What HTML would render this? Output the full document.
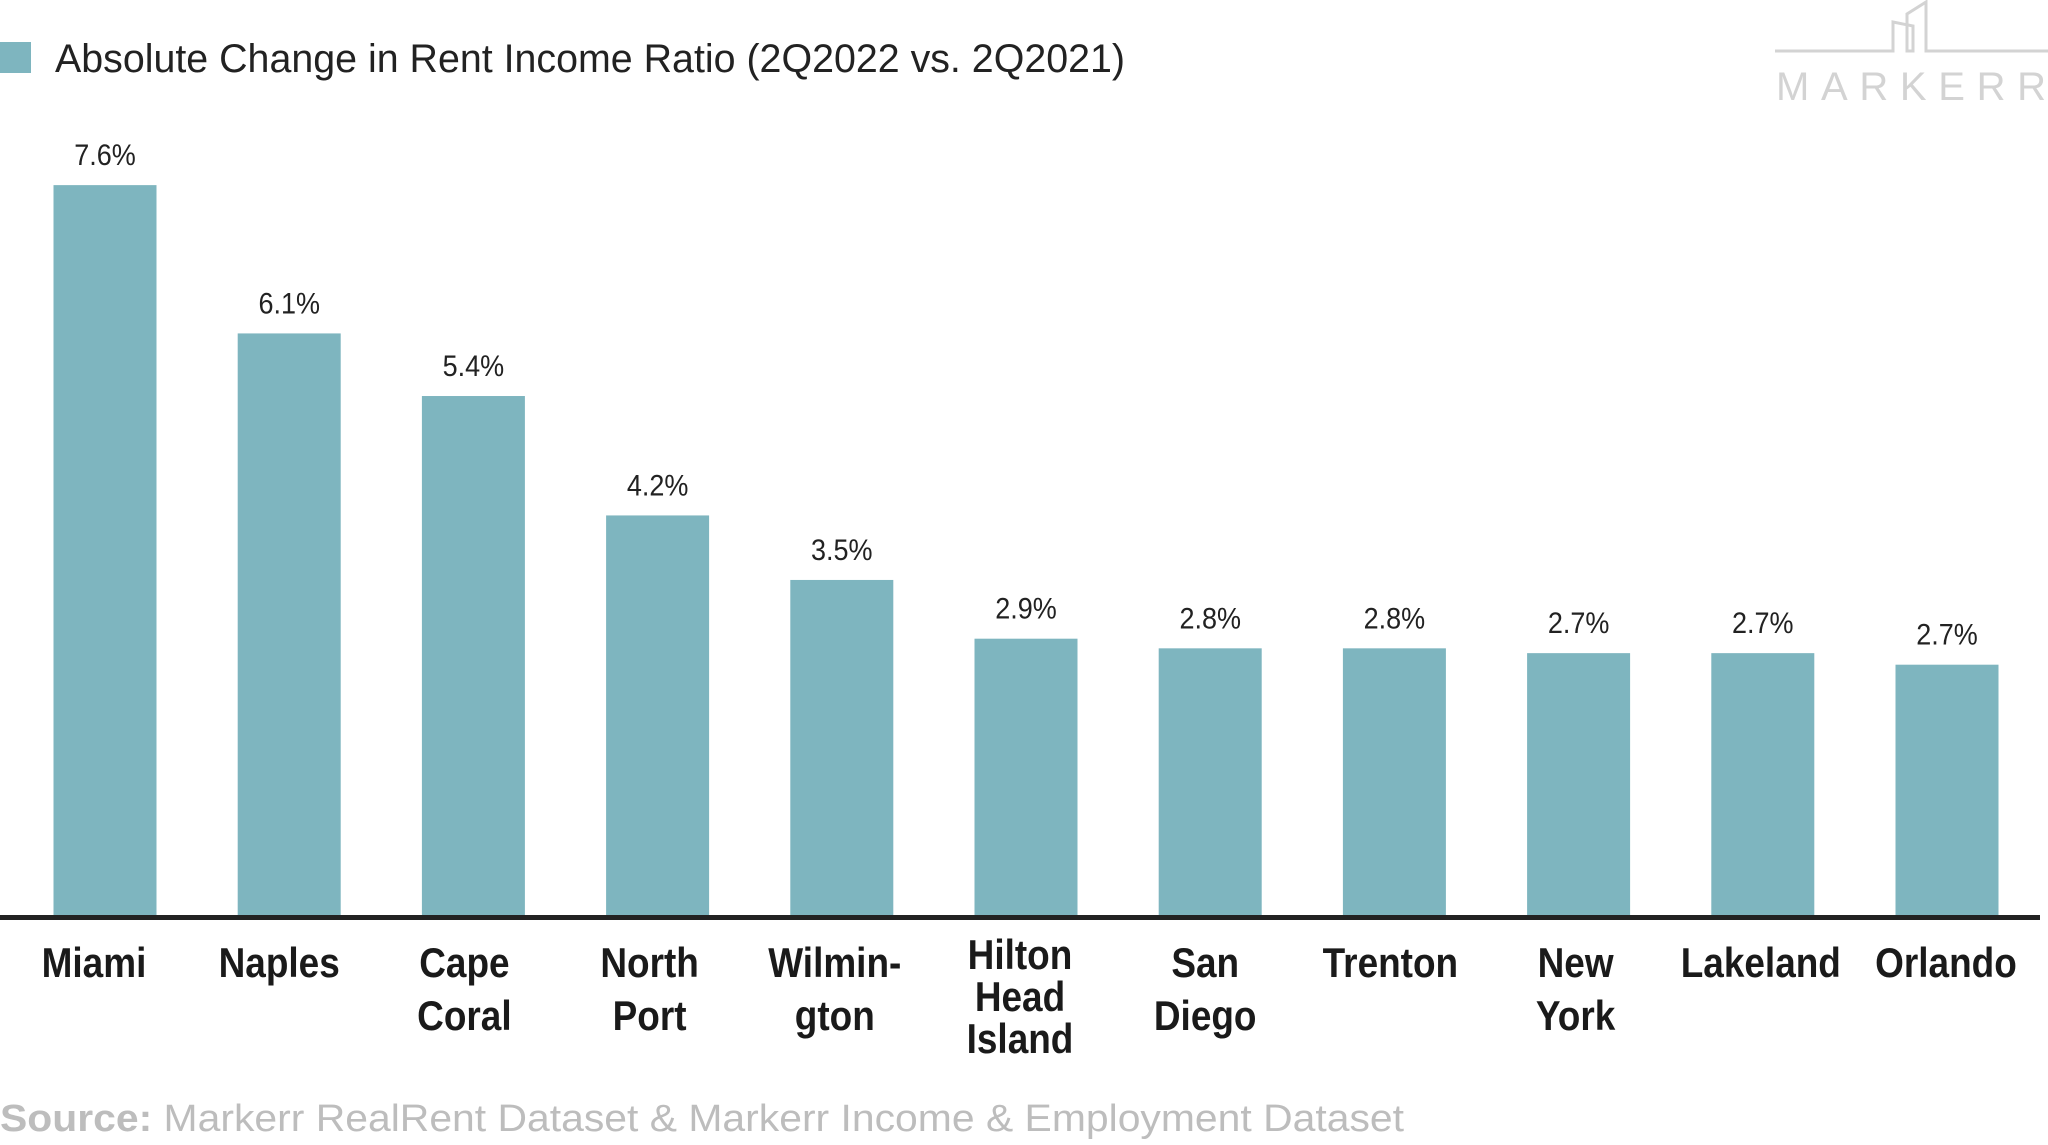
<!DOCTYPE html>
<html><head><meta charset="utf-8"><style>
body{margin:0;width:2048px;height:1145px;background:#fff;overflow:hidden;font-family:"Liberation Sans",sans-serif}
svg{display:block}
</style></head><body>
<svg id="chart" width="2048" height="1145">
<rect x="0" y="42" width="31" height="31" fill="#7eb5bf"/>
<text x="55" y="72" font-size="40" fill="#222" textLength="1070" lengthAdjust="spacingAndGlyphs">Absolute Change in Rent Income Ratio (2Q2022 vs. 2Q2021)</text>
<g fill="none" stroke="#d3d3d3" stroke-width="3">
<polyline points="1775,51 1893,51 1893,22 1913,26 1913,51 1907,51 1907,30"/>
<polyline points="1907,51 1907,14 1926,2 1926,51 2048,51"/>
<text x="1776" y="100" font-size="40" fill="#d3d3d3" stroke="none" textLength="270" lengthAdjust="spacing">MARKERR</text>
</g>
<g id="bars"></g>
<rect x="0" y="915" width="2040" height="5" fill="#222"/>
<text x="0" y="1131" font-size="38" fill="#bdbdbd" textLength="1404" lengthAdjust="spacingAndGlyphs"><tspan font-weight="bold">Source:</tspan> Markerr RealRent Dataset &amp; Markerr Income &amp; Employment Dataset</text>
</svg>
<script>
const categories=[["Miami"],["Naples"],["Cape","Coral"],["North","Port"],["Wilmin-","gton"],["Hilton","Head","Island"],["San","Diego"],["Trenton"],["New","York"],["Lakeland"],["Orlando"]];
const values=[7.6,6.06,5.41,4.17,3.5,2.89,2.79,2.79,2.74,2.74,2.62];
const labels=["7.6%","6.1%","5.4%","4.2%","3.5%","2.9%","2.8%","2.8%","2.7%","2.7%","2.7%"];
const base=917,pxPer=96.3,x0=105,pitch=184.2,bw=103;
const yS=v=>base-v*pxPer, xS=i=>x0+i*pitch;
const g=document.getElementById('bars'),NS="http://www.w3.org/2000/svg";
values.forEach((v,i)=>{
 const r=document.createElementNS(NS,'rect');
 
 
 r.setAttribute('x',xS(i)-bw/2);r.setAttribute('y',yS(v));r.setAttribute('width',bw);r.setAttribute('height',base-yS(v));r.setAttribute('fill','#7eb5bf');
 g.appendChild(r);
 const t=document.createElementNS(NS,'text');
 
 
 t.setAttribute('x',xS(i));t.setAttribute('y',yS(v)-20);t.setAttribute('text-anchor','middle');t.setAttribute('font-size','30');t.setAttribute('fill','#222');
 t.setAttribute('transform','translate('+xS(i)+',0) scale(0.9,1) translate('+(-xS(i))+',0)');
 t.textContent=labels[i];g.appendChild(t);
 const c=categories[i],three=c.length===3,sp=three?42:53,y0=three?969:977;
 c.forEach((ln,j)=>{
  const ct=document.createElementNS(NS,'text');
  
  
  const cx=94+i*185.2;
  ct.setAttribute('x',cx);ct.setAttribute('y',y0+j*sp);ct.setAttribute('text-anchor','middle');ct.setAttribute('font-size','42');ct.setAttribute('font-weight','bold');ct.setAttribute('fill','#1a1a1a');
  ct.setAttribute('transform','translate('+cx+',0) scale(0.88,1) translate('+(-cx)+',0)');
  ct.textContent=ln;g.appendChild(ct);
 });
});
</script>
</body></html>
